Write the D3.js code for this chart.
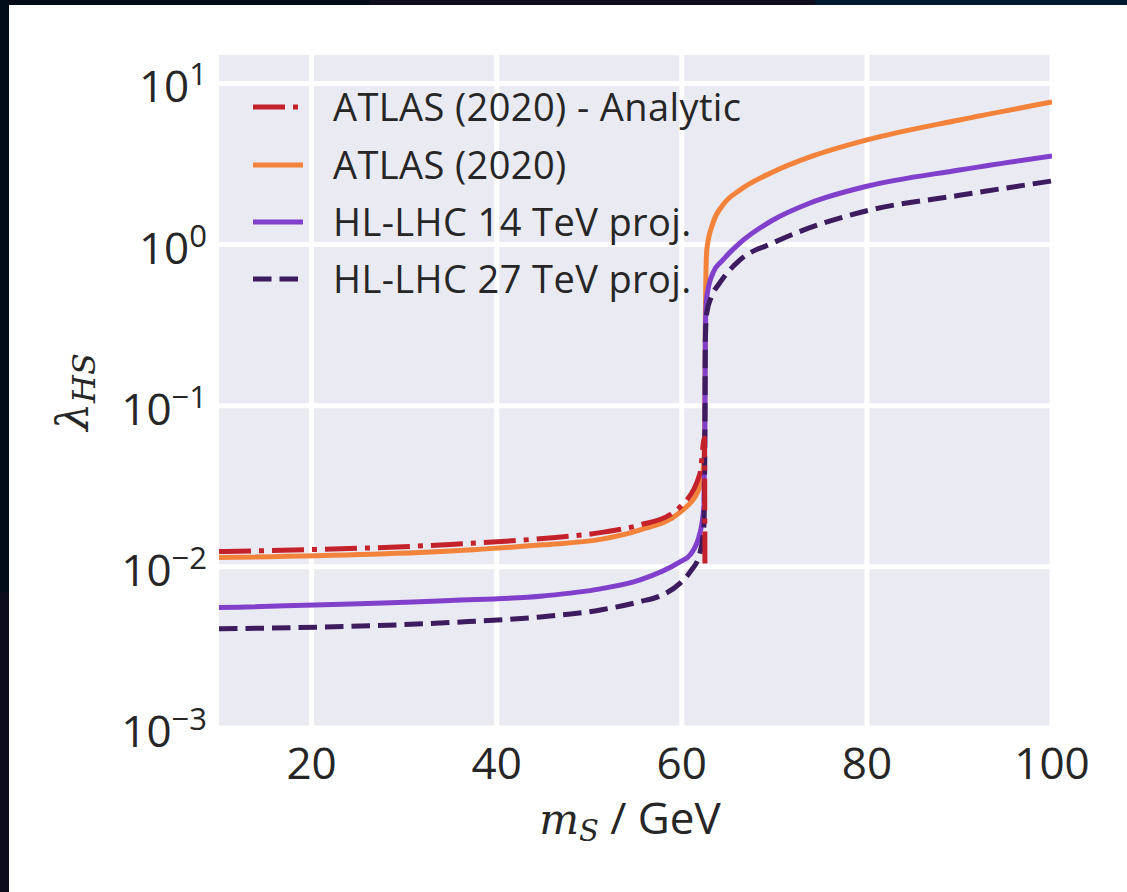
<!DOCTYPE html>
<html>
<head>
<meta charset="utf-8">
<script src="https://cdn.jsdelivr.net/npm/d3@7"></script>
<style>
  html, body { margin: 0; padding: 0; background: #000c18; }
  svg { display: block; }
</style>
</head>
<body>
<div id="chart"></div>
<script>
// values (m_S in GeV, lambda_HS)
const xTicks = [20, 40, 60, 80, 100];
const yTicks = [1e-3, 1e-2, 1e-1, 1e0, 1e1];
const yTickExp = ["\u22123", "\u22122", "\u22121", "0", "1"];

const analyticM = [10, 35, 45, 51.2, 55.5, 58.8, 59.8, 61.97, 62.45, 62.5];
const analyticL = [0.01244, 0.01378, 0.0150, 0.0163, 0.0182, 0.0212, 0.0235, 0.038, 0.0631, 0.0103];

const atlasM = [10, 36, 45, 51.2, 55.5, 59.8, 61.97, 62.4, 62.5, 62.55, 62.7, 63.37, 64.45, 66.29, 69.85, 73.86, 80, 90, 100];
const atlasL = [0.01142, 0.01262, 0.0137, 0.0148, 0.01696, 0.0218, 0.0315, 0.0461, 0.12, 0.3554, 0.926, 1.361, 1.761, 2.181, 2.82, 3.494, 4.456, 5.93, 7.66];

const hl14M = [10, 35, 45, 51.2, 55.5, 59.8, 60.9, 61.97, 62.4, 62.5, 62.55, 62.7, 63.37, 64.45, 66.29, 69.85, 73.86, 80, 90, 100];
const hl14L = [0.005591, 0.006177, 0.0066, 0.0073, 0.008304, 0.01074, 0.01187, 0.01625, 0.02424, 0.08, 0.2953, 0.473, 0.6665, 0.802, 1.023, 1.42, 1.811, 2.3, 2.9, 3.544];

const hl27M = [10, 35, 45, 51.2, 55.5, 57.8, 59.8, 60.9, 61.97, 62.4, 62.5, 62.55, 62.7, 63.2, 64.1, 66.29, 69.85, 73.2, 80, 90, 100];
const hl27L = [0.004123, 0.004513, 0.0049, 0.0054, 0.00609, 0.00665, 0.0079, 0.0093, 0.01221, 0.01822, 0.07, 0.256, 0.3763, 0.473, 0.5777, 0.802, 1.023, 1.232, 1.62, 2.02, 2.48];

const seriesNames = ["ATLAS (2020) - Analytic", "ATLAS (2020)", "HL-LHC 14 TeV proj.", "HL-LHC 27 TeV proj."];
const seriesColors = ["#c4212b", "#f3823a", "#8140cc", "#3c1b5e"];
const seriesDash = ["32,8,5,8", null, null, "18.5,8"];

const W = 1127, H = 892;
const plot = { left: 219, right: 1052, top: 55, bottom: 728 };

const svg = d3.select("#chart").append("svg")
    .attr("width", W)
    .attr("height", H);

// dark page frame around the figure
svg.append("rect").attr("x", 0).attr("y", 0).attr("width", W).attr("height", H).attr("fill", "#000c18");
svg.append("rect").attr("x", 0).attr("y", 592).attr("width", 9).attr("height", H - 592).attr("fill", "#0d0c1c");
svg.append("rect").attr("x", 370).attr("y", 0).attr("width", 445).attr("height", 5).attr("fill", "#0f0d1e");
svg.append("rect").attr("x", 815).attr("y", 0).attr("width", W - 815).attr("height", 5).attr("fill", "#011a30");
svg.append("rect").attr("x", 9).attr("y", 5).attr("width", W - 9).attr("height", H - 5).attr("fill", "#ffffff");

const x = d3.scaleLinear().domain([10, 100]).range([plot.left, plot.right]);
const y = d3.scaleLog().domain([1e-3, 15]).range([plot.bottom, plot.top]);

svg.append("rect")
    .attr("x", plot.left).attr("y", plot.top)
    .attr("width", plot.right - plot.left).attr("height", plot.bottom - plot.top)
    .attr("fill", "#eaeaf2");

svg.append("clipPath").attr("id", "plotclip")
    .append("rect")
    .attr("x", plot.left).attr("y", plot.top)
    .attr("width", plot.right - plot.left).attr("height", plot.bottom - plot.top);

// grid
const grid = svg.append("g").attr("clip-path", "url(#plotclip)");
grid.selectAll("line.vx").data(xTicks).join("line")
    .attr("class", "vx")
    .attr("x1", d => x(d)).attr("x2", d => x(d))
    .attr("y1", plot.top).attr("y2", plot.bottom)
    .attr("stroke", "#ffffff").attr("stroke-width", 5);
grid.selectAll("line.hy").data(yTicks).join("line")
    .attr("class", "hy")
    .attr("x1", plot.left).attr("x2", plot.right)
    .attr("y1", d => y(d)).attr("y2", d => y(d))
    .attr("stroke", "#ffffff").attr("stroke-width", 5);

// curves
const series = [
    { m: analyticM, l: analyticL },
    { m: atlasM, l: atlasL },
    { m: hl14M, l: hl14L },
    { m: hl27M, l: hl27L }
];

const line = d3.line()
    .x(d => x(d[0]))
    .y(d => y(d[1]))
    .curve(d3.curveMonotoneX);

const curves = svg.append("g").attr("clip-path", "url(#plotclip)");
// draw order: orange, purple, dark, red on top
[1, 2, 3, 0].forEach(i => {
    const pts = series[i].m.map((m, k) => [m, series[i].l[k]]);
    curves.append("path")
        .attr("d", line(pts))
        .attr("fill", "none")
        .attr("stroke", seriesColors[i])
        .attr("stroke-width", 5)
        .attr("stroke-dasharray", seriesDash[i])
        .attr("stroke-linejoin", "round");
});

// x tick labels
const textColor = "#262626";
svg.append("g").selectAll("text").data(xTicks).join("text")
    .attr("x", d => x(d))
    .attr("y", 779)
    .attr("text-anchor", "middle")
    .attr("font-family", "'Open Sans', sans-serif")
    .attr("font-size", 44)
    .attr("fill", textColor)
    .text(d => d);

// y tick labels 10^n
const yl = svg.append("g").selectAll("text").data(yTicks).join("text")
    .attr("x", 207)
    .attr("y", d => y(d) + 19)
    .attr("text-anchor", "end")
    .attr("font-family", "'Open Sans', sans-serif")
    .attr("fill", textColor);
yl.append("tspan").attr("font-size", 44).text("10");
yl.append("tspan").attr("font-size", 31).attr("dy", -17).text((d, i) => yTickExp[i]);

// y axis label
const ylab = svg.append("text")
    .attr("transform", "translate(88,392) rotate(-90)")
    .attr("text-anchor", "middle")
    .attr("font-family", "'DejaVu Serif', serif")
    .attr("font-style", "italic")
    .attr("fill", textColor);
ylab.append("tspan").attr("font-size", 44).text("\u03bb");
ylab.append("tspan").attr("font-size", 32).attr("dy", 7).text("HS");

// x axis label
const xlab = svg.append("text")
    .attr("x", 630)
    .attr("y", 834)
    .attr("text-anchor", "middle")
    .attr("fill", textColor);
xlab.append("tspan").attr("font-family", "'DejaVu Serif', serif").attr("font-style", "italic")
    .attr("font-size", 42).text("m");
xlab.append("tspan").attr("font-family", "'DejaVu Serif', serif").attr("font-style", "italic")
    .attr("font-size", 29).attr("dy", 7).text("S");
xlab.append("tspan").attr("font-family", "'Open Sans', sans-serif")
    .attr("font-size", 44).attr("dy", -7).text(" / GeV");

// legend
const legend = svg.append("g");
const rowY = [107, 165, 222, 279];
seriesNames.forEach((name, i) => {
    legend.append("line")
        .attr("x1", 253).attr("x2", 303)
        .attr("y1", rowY[i]).attr("y2", rowY[i])
        .attr("stroke", seriesColors[i])
        .attr("stroke-width", 5)
        .attr("stroke-dasharray", seriesDash[i]);
    legend.append("text")
        .attr("x", 333)
        .attr("y", rowY[i] + 14)
        .attr("font-family", "'Open Sans', sans-serif")
        .attr("font-size", 38)
        .attr("letter-spacing", 0.4)
        .attr("fill", textColor)
        .text(name);
});
</script>
</body>
</html>
